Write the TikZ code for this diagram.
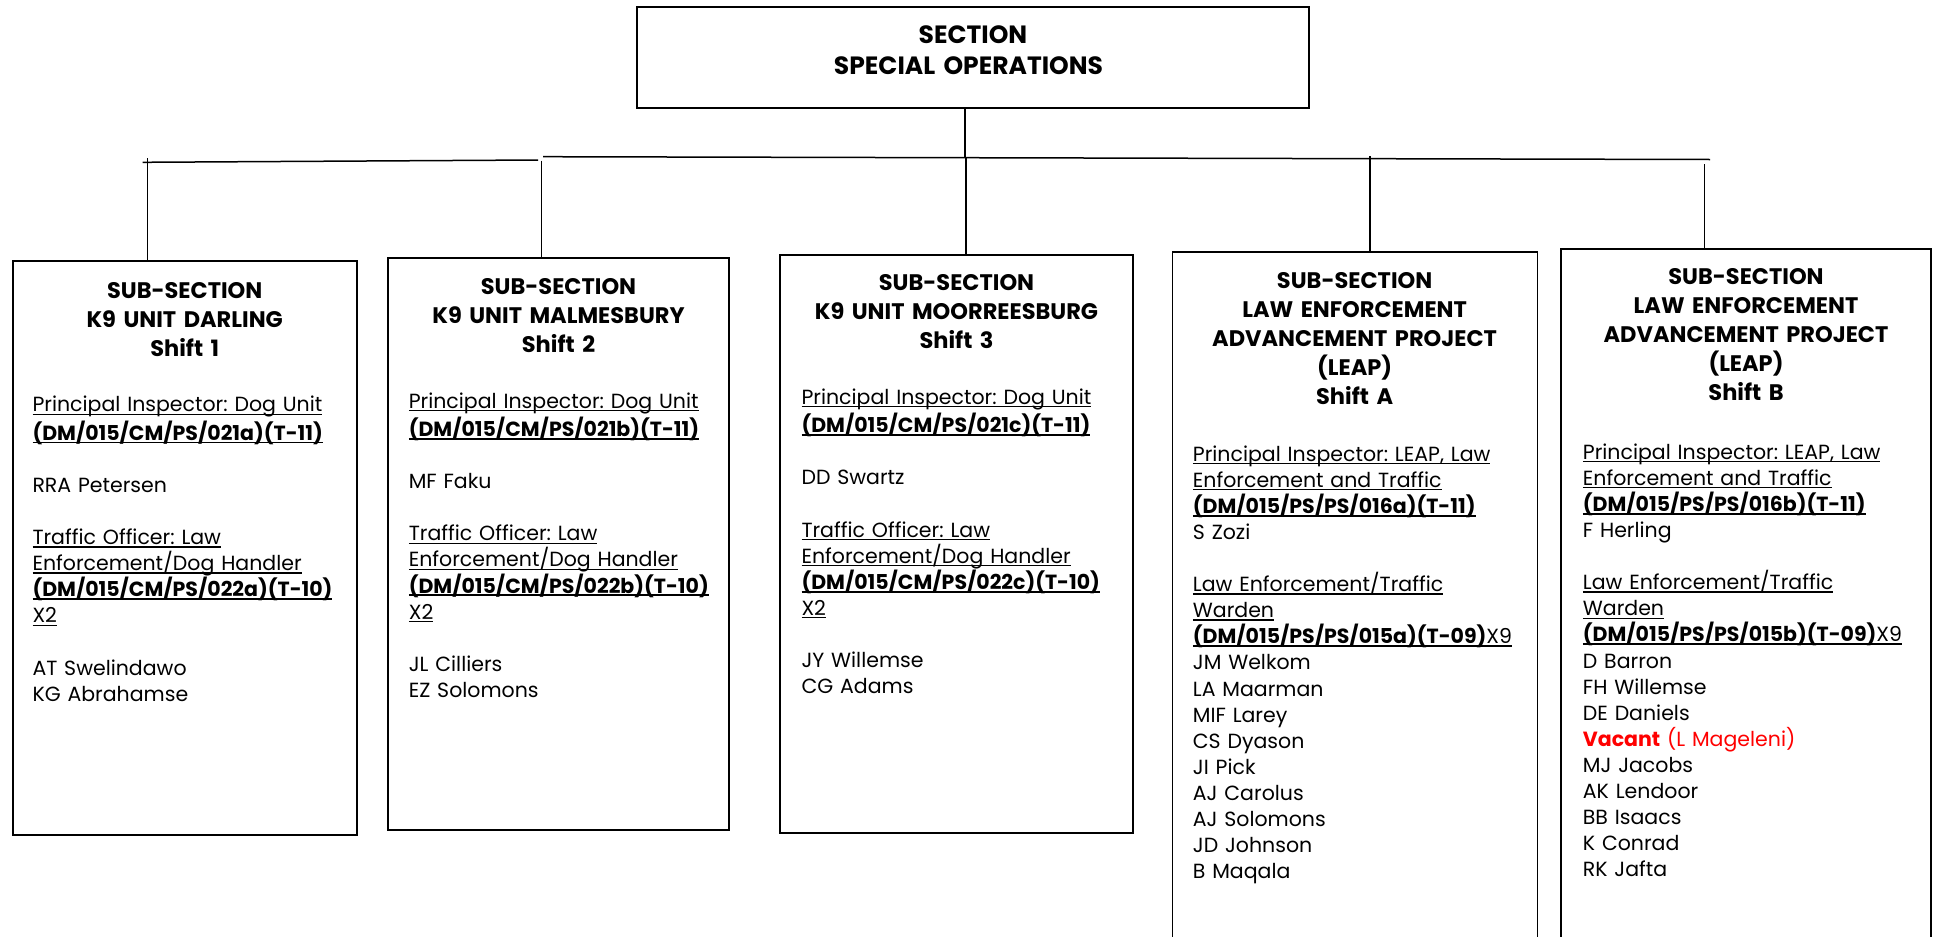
\documentclass[tikz,border=0pt]{standalone}
\usepackage{fontspec}
\setmainfont{Poppins}
\usepackage{xcolor}
\definecolor{vred}{RGB}{255,0,0}
\frenchspacing
\newbox\ulbox
\newcommand\ulr[1]{\leavevmode\setbox\ulbox\hbox{#1}\rlap{\rule[-3pt]{\wd\ulbox}{1.3pt}}\box\ulbox}
\newcommand\ulb[1]{\leavevmode\setbox\ulbox\hbox{\bfseries #1}\rlap{\rule[-3.2pt]{\wd\ulbox}{1.8pt}}\box\ulbox}
\newcommand\bodyfont{\fontsize{20.5}{26.1}\selectfont\frenchspacing}
\newcommand\titlefont{\fontsize{22.5}{29}\selectfont\bfseries}
\newcommand\topfont{\fontsize{25}{31}\selectfont\bfseries}
\begin{document}
\begin{tikzpicture}[x=1pt,y=-1pt,
  boxst/.style={draw=black, line width=1.8pt, anchor=north west, inner sep=0pt, outer sep=0pt},
  wire/.style={draw=black, line width=1.5pt},
  ttl/.style={anchor=north, inner sep=0pt, align=center, text width=#1, font=\titlefont},
  body/.style={anchor=north west, inner sep=0pt, align=left, text width=360pt, font=\bodyfont}]
\useasboundingbox (0,0) rectangle (1933,937);
\clip (0,0) rectangle (1933,937);

% top box
\node[boxst, minimum width=672pt, minimum height=101.3pt] (top) at (637,6.7) {};
\node[anchor=north, inner sep=0pt, align=center, text width=600pt, font=\topfont] (toptxt) at (968.5,21.6) {\strut\hspace*{9pt}SECTION\\SPECIAL OPERATIONS};

% sub-section boxes
\node[boxst, minimum width=344pt, minimum height=574pt] (b1) at (12.7,261) {};
\node[boxst, minimum width=341pt, minimum height=572pt] (b2) at (388,257.7) {};
\node[boxst, minimum width=353pt, minimum height=578pt] (b3) at (780,255) {};
\node[boxst, minimum width=365pt, minimum height=720pt] (b4) at (1172.4,252) {};
\node[boxst, minimum width=370pt, minimum height=720pt] (b5) at (1561,249) {};

% connectors
\coordinate (j0) at (965,157.5);
\coordinate (hL) at (543,156.7);
\coordinate (hR) at (1710,159.5);
\coordinate (lL) at (142.7,162.3);
\coordinate (lR) at (538,160);
\coordinate (t1) at (147.3,158);
\coordinate (t2) at (541.7,160.7);
\coordinate (t3) at (966,158);
\coordinate (t4) at (1370,156);
\coordinate (t5) at (1704.3,164.3);
\draw[wire] (top.south -| j0) -- (j0);
\draw[wire] (hL) -- (hR);
\draw[wire] (lL) -- (lR);
\draw[wire] (t1) -- (t1 |- b1.north);
\draw[wire] (t2) -- (t2 |- b2.north);
\draw[wire] (t3) -- (t3 |- b3.north);
\draw[wire] (t4) -- (t4 |- b4.north);
\draw[wire] (t5) -- (t5 |- b5.north);

% titles
\node[ttl=340pt] (h1) at (184.7,277.7) {\strut SUB-SECTION\\K9 UNIT DARLING\\Shift 1};
\node[ttl=340pt] (h2) at (558.5,274) {\strut SUB-SECTION\\K9 UNIT MALMESBURY\\Shift 2};
\node[ttl=350pt] (h3) at (956.5,270.3) {\strut SUB-SECTION\\K9 UNIT MOORREESBURG\\Shift 3};
\node[ttl=360pt] (h4) at (1354.6,267.7) {\strut SUB-SECTION\\LAW ENFORCEMENT\\ADVANCEMENT PROJECT\\(LEAP)\\Shift A};
\node[ttl=365pt] (h5) at (1746,264.2) {\strut SUB-SECTION\\LAW ENFORCEMENT\\ADVANCEMENT PROJECT\\(LEAP)\\Shift B};

% bodies
\node[body] (p1) at (32.3,393.4) {\strut\ulr{Principal Inspector: Dog Unit}\\
\ulb{(DM/015/CM/PS/021a)(T-11)}\\[26.1pt]
RRA Petersen\\[26.1pt]
\ulr{Traffic Officer: Law}\\
\ulr{Enforcement/Dog Handler}\\
\ulb{(DM/015/CM/PS/022a)(T-10)}\\
\ulr{X2}\\[26.1pt]
AT Swelindawo\\
KG Abrahamse};

\node[body] (p2) at (408.6,389.7) {\strut\ulr{Principal Inspector: Dog Unit}\\
\ulb{(DM/015/CM/PS/021b)(T-11)}\\[26.1pt]
MF Faku\\[26.1pt]
\ulr{Traffic Officer: Law}\\
\ulr{Enforcement/Dog Handler}\\
\ulb{(DM/015/CM/PS/022b)(T-10)}\\
\ulr{X2}\\[26.1pt]
JL Cilliers\\
EZ Solomons};

\node[body] (p3) at (801.3,386) {\strut\ulr{Principal Inspector: Dog Unit}\\
\ulb{(DM/015/CM/PS/021c)(T-11)}\\[26.1pt]
DD Swartz\\[26.1pt]
\ulr{Traffic Officer: Law}\\
\ulr{Enforcement/Dog Handler}\\
\ulb{(DM/015/CM/PS/022c)(T-10)}\\
\ulr{X2}\\[26.1pt]
JY Willemse\\
CG Adams};

\node[body] (p4) at (1192.7,442.7) {\strut\ulr{Principal Inspector: LEAP, Law}\\
\ulr{Enforcement and Traffic}\\
\ulb{(DM/015/PS/PS/016a)(T-11)}\\
S Zozi\\[26.1pt]
\ulr{Law Enforcement/Traffic}\\
\ulr{Warden}\\
\ulb{(DM/015/PS/PS/015a)(T-09)\mdseries X9}\\
JM Welkom\\
LA Maarman\\
MIF Larey\\
CS Dyason\\
JI Pick\\
AJ Carolus\\
AJ Solomons\\
JD Johnson\\
B Maqala};

\node[body] (p5) at (1582.7,440.8) {\strut\ulr{Principal Inspector: LEAP, Law}\\
\ulr{Enforcement and Traffic}\\
\ulb{(DM/015/PS/PS/016b)(T-11)}\\
F Herling\\[26.1pt]
\ulr{Law Enforcement/Traffic}\\
\ulr{Warden}\\
\ulb{(DM/015/PS/PS/015b)(T-09)\mdseries X9}\\
D Barron\\
FH Willemse\\
DE Daniels\\
\textcolor{vred}{\textbf{Vacant} (L Mageleni)}\\
MJ Jacobs\\
AK Lendoor\\
BB Isaacs\\
K Conrad\\
RK Jafta};
\end{tikzpicture}
\end{document}
